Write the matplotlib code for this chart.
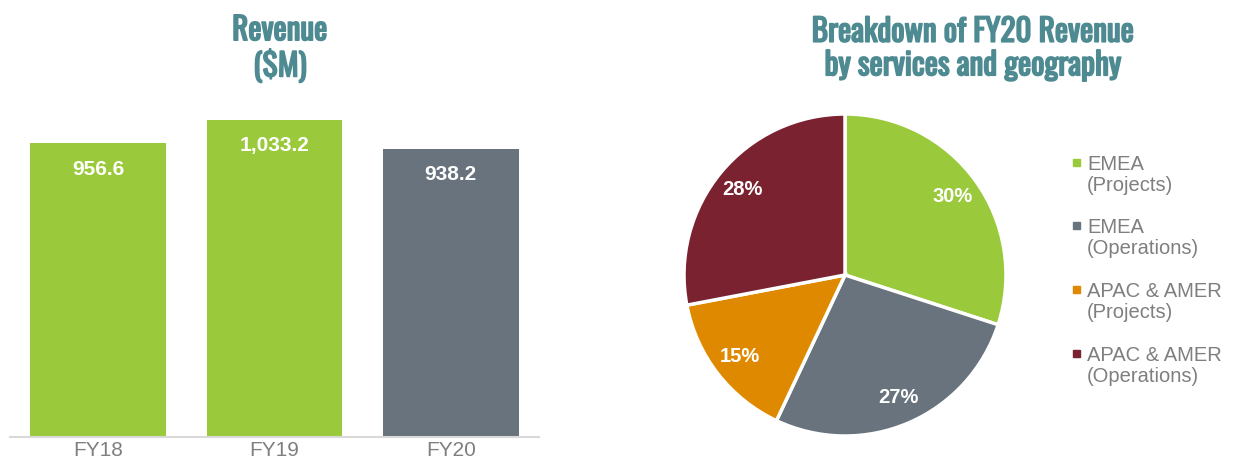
import matplotlib.pyplot as plt
import matplotlib.patheffects as pe

# revenue bars
years = ["FY18", "FY19", "FY20"]
revenue = [956.6, 1033.2, 938.2]
bar_labels = ["956.6", "1,033.2", "938.2"]

# FY20 breakdown
segments = ["EMEA\n(Projects)", "EMEA\n(Operations)", "APAC & AMER\n(Projects)", "APAC & AMER\n(Operations)"]
shares = [30, 27, 15, 28]

GREEN = "#9ACA3C"
GREY = "#68737D"
ORANGE = "#DF8900"
MAROON = "#7A2230"
TEAL = "#4E8A92"
TXT = "#7F7F7F"

# Oswald only ships the regular weight here -> thicken it with a stroke
title_font = dict(family=["Oswald", "Roboto Condensed", "DejaVu Sans"],
                  weight="bold", color=TEAL, fontsize=22.5, ha="center", va="center",
                  linespacing=1.1,
                  path_effects=[pe.withStroke(linewidth=1.2, foreground=TEAL)])

fig = plt.figure(figsize=(12.34, 4.63), dpi=100)
W, H = 1234, 463

# bar chart, placed in pixel coords
ax = fig.add_axes([10 / W, 1 - 437 / H, 529 / W, 338 / H])
bar_colors = [GREEN, GREEN, GREY]
bars = ax.bar(range(len(years)), revenue, width=0.77, color=bar_colors)
ax.set_xlim(-0.5, 2.5)
ax.set_ylim(0, 1100)
ax.set_xticks(range(len(years)))
ax.set_xticklabels(years, fontsize=15, color=TXT, family="Liberation Sans")
ax.tick_params(axis="x", length=0, pad=3)
ax.set_yticks([])
for s in ["top", "right", "left"]:
    ax.spines[s].set_visible(False)
ax.spines["bottom"].set_color("#D9D9D9")
ax.spines["bottom"].set_linewidth(1.5)
for b, lab in zip(bars, bar_labels):
    ax.text(b.get_x() + b.get_width() / 2, b.get_height() - 85, lab,
            ha="center", va="center", color="white", fontsize=15, weight="bold",
            family="Liberation Sans")

fig.text(280 / W, 1 - 49 / H, "Revenue\n($M)", **title_font)
fig.text(973 / W, 1 - 49 / H, "Breakdown of FY20 Revenue\nby services and geography", **title_font)

# pie
r = 161
cx, cy = 845, 275
pax = fig.add_axes([(cx - r) / W, 1 - (cy + r) / H, 2 * r / W, 2 * r / H])
wedges, texts, autotexts = pax.pie(
    shares, colors=[GREEN, GREY, ORANGE, MAROON], startangle=90, counterclock=False,
    autopct="%d%%", pctdistance=0.83, radius=1,
    wedgeprops=dict(edgecolor="white", linewidth=2.5),
    textprops=dict(color="white", fontsize=14.5, weight="bold", family="Liberation Sans"))
pax.set_xlim(-1, 1)
pax.set_ylim(-1, 1)
pax.set_aspect("equal")

# legend drawn manually to mimic the two-line entries
legend_y = [175, 238, 302, 366]
for col, lab, y in zip([GREEN, GREY, ORANGE, MAROON], segments, legend_y):
    fig.patches.append(plt.Rectangle((1073 / W, 1 - (y - 9.5) / H), 7 / W, 7 / H,
                                     transform=fig.transFigure, color=col))
    fig.text(1087 / W, 1 - y / H, lab, fontsize=14.5, color=TXT, family="Liberation Sans",
             ha="left", va="center", linespacing=1.1)

fig.savefig("out.png", dpi=100, facecolor="white")
